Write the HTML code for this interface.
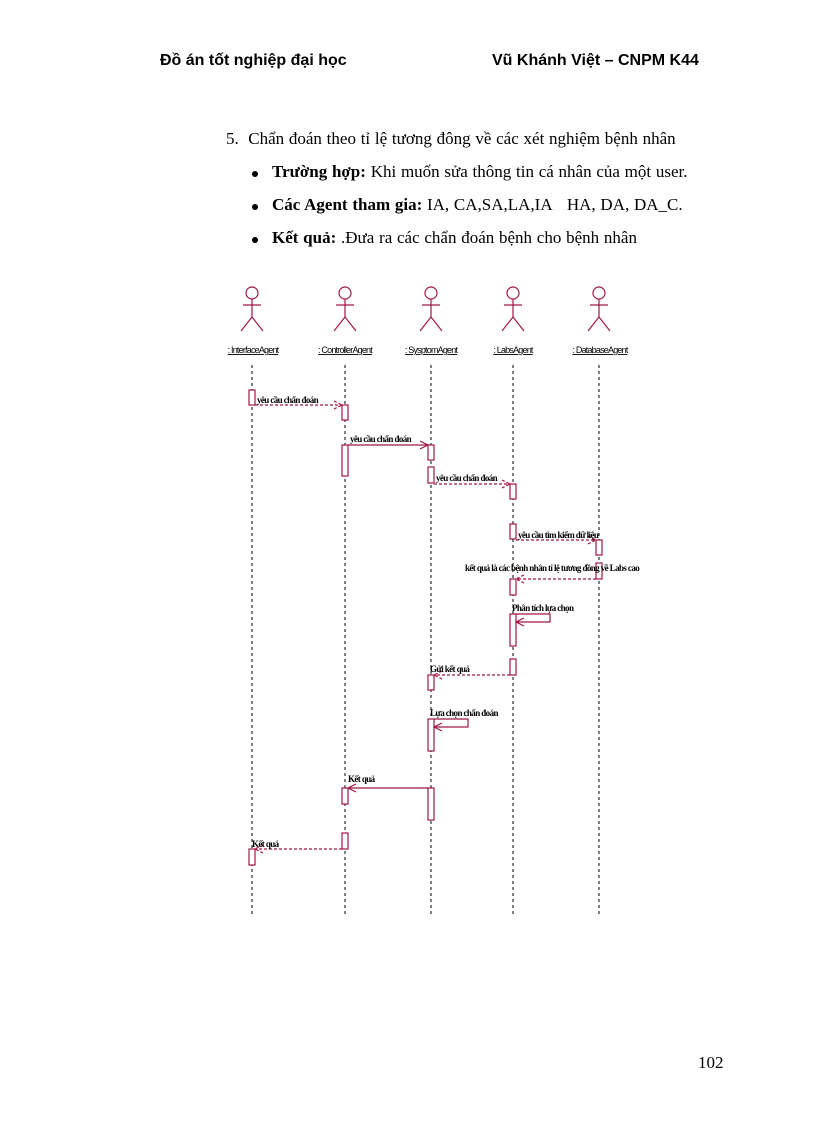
<!DOCTYPE html>
<html><head><meta charset="utf-8"><style>
body{margin:0;width:816px;height:1123px;background:#fff;position:relative;overflow:hidden}
.h{position:absolute;top:52px;font:bold 16px "Liberation Sans",sans-serif;color:#000}
.t{position:absolute;font:17px "Liberation Serif",serif;color:#000;white-space:nowrap;word-spacing:0.5px}
.t b{font-weight:bold}
.dot{position:absolute;width:6px;height:6px;border-radius:50%;background:#000}
</style></head><body>
<div class="h" style="left:160px">Đồ án tốt nghiệp đại học</div>
<div class="h" style="left:492px">Vũ Khánh Việt – CNPM K44</div>
<div class="t" style="left:226px;top:129px">5.&nbsp;&nbsp;Chẩn đoán theo tỉ lệ tương đông về các xét nghiệm bệnh nhân</div>
<div class="dot" style="left:252px;top:171px"></div>
<div class="t" style="left:272px;top:162px"><b>Trường hợp:</b> Khi muốn sửa thông tin cá nhân của một user.</div>
<div class="dot" style="left:252px;top:204px"></div>
<div class="t" style="left:272px;top:195px"><b>Các Agent tham gia:</b> IA, CA,SA,LA,IA&nbsp;&nbsp; HA, DA, DA_C.</div>
<div class="dot" style="left:252px;top:237px"></div>
<div class="t" style="left:272px;top:228px"><b>Kết quả:</b> .Đưa ra các chẩn đoán bệnh cho bệnh nhân</div>
<div class="t" style="left:698px;top:1053px">102</div>
<svg width="816" height="1123" style="position:absolute;left:0;top:0" xmlns="http://www.w3.org/2000/svg">
<defs><g id="act" stroke="#a0174a" fill="none" stroke-width="1.2">
<circle cx="0" cy="-50" r="6"/><line x1="0" y1="-44" x2="0" y2="-26"/><line x1="-9" y1="-38" x2="9" y2="-38"/><line x1="0" y1="-26" x2="-11" y2="-12"/><line x1="0" y1="-26" x2="11" y2="-12"/></g></defs>
<g>
<use href="#act" x="252" y="343"/><use href="#act" x="345" y="343"/><use href="#act" x="431" y="343"/><use href="#act" x="513" y="343"/><use href="#act" x="599" y="343"/>
</g>
<g font-family="Liberation Sans,sans-serif" font-size="9" letter-spacing="-0.8" text-decoration="underline" text-anchor="middle" fill="#000">
<text x="253" y="353">: InterfaceAgent</text><text x="345" y="353">: ControllerAgent</text><text x="431" y="353">: SysptomAgent</text><text x="513" y="353">: LabsAgent</text><text x="600" y="353">: DatabaseAgent</text>
</g>
<g stroke="#000" stroke-dasharray="3,3" stroke-width="1">
<line x1="252" y1="365" x2="252" y2="915"/><line x1="345" y1="365" x2="345" y2="915"/><line x1="431" y1="365" x2="431" y2="915"/><line x1="513" y1="365" x2="513" y2="915"/><line x1="599" y1="365" x2="599" y2="915"/>
</g>
<g fill="#fff" stroke="#a0174a" stroke-width="1.2">
<rect x="249" y="390" width="6" height="15"/><rect x="342" y="405" width="6" height="15"/>
<rect x="342" y="445" width="6" height="31"/><rect x="428" y="445" width="6" height="15"/>
<rect x="428" y="467" width="6" height="16"/><rect x="510" y="484" width="6" height="15"/>
<rect x="510" y="524" width="6" height="15"/><rect x="596" y="540" width="6" height="15"/>
<rect x="596" y="563" width="6" height="16"/><rect x="510" y="579" width="6" height="16"/>
<rect x="510" y="614" width="6" height="32"/>
<rect x="510" y="659" width="6" height="16"/><rect x="428" y="675" width="6" height="15"/>
<rect x="428" y="719" width="6" height="32"/>
<rect x="428" y="788" width="6" height="32"/><rect x="342" y="788" width="6" height="16"/>
<rect x="342" y="833" width="6" height="16"/><rect x="249" y="849" width="6" height="16"/>
</g>
<g stroke="#a0174a" stroke-width="1.2" fill="none">
<path d="M255 405H342M334 401L342 405L334 409" stroke-dasharray="3,2"/>
<path d="M348 445H428M420 441L428 445L420 449"/>
<path d="M434 484H510M502 480L510 484L502 488" stroke-dasharray="3,2"/>
<path d="M516 540H596M588 536L596 540L588 544" stroke-dasharray="3,2"/>
<path d="M596 579H516M524 575L516 579L524 583" stroke-dasharray="3,2"/>
<path d="M516 614H550V622H516M524 618L516 622L524 626"/>
<path d="M510 675H434M442 671L434 675L442 679" stroke-dasharray="3,2"/>
<path d="M434 719H468V727H434M442 723L434 727L442 731"/>
<path d="M428 788H348M356 784L348 788L356 792"/>
<path d="M342 849H255M263 845L255 849L263 853" stroke-dasharray="3,2"/>
</g>
<g font-family="Liberation Serif,serif" font-size="9" font-weight="bold" letter-spacing="-0.6" fill="#000">
<text x="257" y="403">yêu cầu chẩn đoán</text>
<text x="350" y="442">yêu cầu chẩn đoán</text>
<text x="436" y="481">yêu cầu chẩn đoán</text>
<text x="518" y="538">yêu cầu tìm kiếm dữ liệu</text>
<text x="465" y="571">kết quả là các bệnh nhân tỉ lệ tương đồng về Labs cao</text>
<text x="512" y="611">Phân tích lựa chọn</text>
<text x="430" y="672">Gửi kết quả</text>
<text x="430" y="716">Lựa chọn chẩn đoán</text>
<text x="348" y="782">Kết quả</text>
<text x="252" y="847">Kết quả</text>
</g>
</svg>
</body></html>
